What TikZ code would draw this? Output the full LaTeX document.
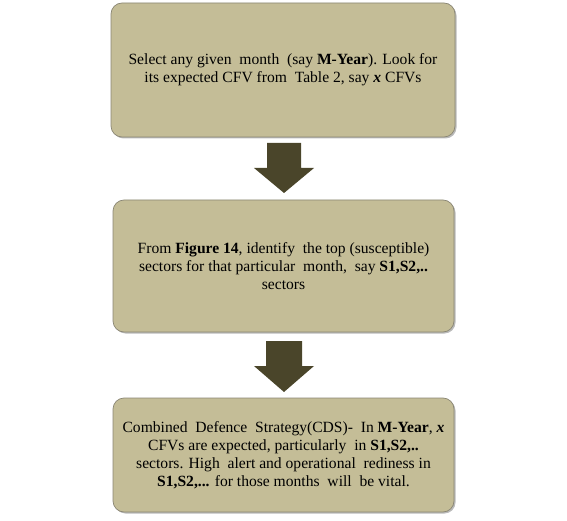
\documentclass[tikz,border=0pt]{standalone}
\usepackage{fontspec}
\setmainfont{Liberation Serif}
\usetikzlibrary{shadows,positioning}
\definecolor{boxfill}{HTML}{C4BD97}
\definecolor{boxline}{HTML}{8A8674}
\definecolor{arrowfill}{HTML}{4A452A}
\tikzset{
  stepbox/.style={draw=boxline, line width=0.7pt, fill=boxfill, rounded corners=11pt,
    align=center, inner sep=0pt, font=\fontsize{15.6}{18}\selectfont,
    drop shadow={shadow xshift=1.5pt, shadow yshift=-1.5pt, fill=black!45, opacity=0.6}},
  bigarrow/.style={fill=arrowfill}
}
\begin{document}
\begin{tikzpicture}[x=1pt,y=-1pt]
\useasboundingbox (0,0) rectangle (567,521);
\node[stepbox, minimum width=344pt, minimum height=134pt] (b1) at (283,70)
  {Select any given\ \ month\ \ (say \textbf{M-Year}). Look for\\
   its expected CFV from\ \ Table 2, say \textbf{\textit{x}} CFVs};
\node[stepbox, minimum width=341pt, minimum height=132pt] (b2) at (283.5,266)
  {From \textbf{Figure 14}, identify\ \ the top (susceptible)\\
   sectors for that particular\ \ month,\ \ say \textbf{S1,S2,..}\\
   sectors};
\node[stepbox, minimum width=341pt, minimum height=114pt] (b3) at (283.5,455)
  {Combined\ \ Defence\ \ Strategy(CDS)-\ \ In \textbf{M-Year}, \textbf{\textit{x}}\\
   CFVs are expected, particularly\ \ in \textbf{S1,S2,..}\\
   sectors. High\ \ alert and operational\ \ rediness in\\
   \textbf{S1,S2,...} for those months\ \ will\ \ be vital.};
\coordinate (a1) at (284,143);
\coordinate (t1) at (284,193);
\coordinate (a2) at (284,341);
\coordinate (t2) at (284,392);
\fill[bigarrow] (a1) ++(-17,0) -- ++(34,0) -- ++(0,25) -- ++(13,0) -- (t1) -- ++(-30,-25) -- ++(13,0) -- cycle;
\fill[bigarrow] (a2) ++(-18,0) -- ++(36,0) -- ++(0,25) -- ++(12,0) -- (t2) -- ++(-30,-26) -- ++(12,0) -- cycle;
\end{tikzpicture}
\end{document}
